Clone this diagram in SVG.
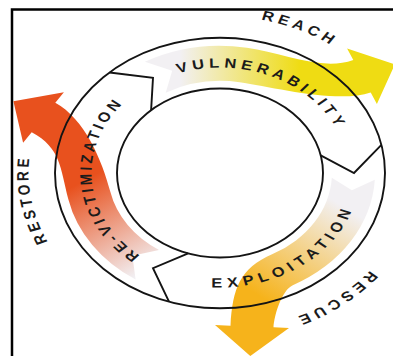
<svg xmlns="http://www.w3.org/2000/svg" width="393" height="356" viewBox="0 0 393 356">
  <defs>
    <linearGradient id="gVul" gradientUnits="userSpaceOnUse" x1="180" y1="0" x2="300" y2="0">
      <stop offset="0" stop-color="#f2f0f3"/>
      <stop offset="1" stop-color="#efdc13"/>
    </linearGradient>
    <linearGradient id="gExp" gradientUnits="userSpaceOnUse" x1="345" y1="215" x2="262" y2="325">
      <stop offset="0" stop-color="#f2f0f3"/>
      <stop offset="1" stop-color="#f6b31b"/>
    </linearGradient>
    <linearGradient id="gRev" gradientUnits="userSpaceOnUse" x1="150" y1="290" x2="80" y2="185">
      <stop offset="0" stop-color="#f2f0f3"/>
      <stop offset="1" stop-color="#e8511e"/>
    </linearGradient>
    <!-- baselines for the lettering (circle centre 220,173) -->
    <path id="pReach" d="M108.3,17.5 A191.5,191.5 0 0 1 410.6,154"/>
    <path id="pRescue" d="M410,149.3 A191.5,191.5 0 0 1 145.5,349.4"/>
    <path id="pRestore" d="M153.9,352.7 A191.5,191.5 0 0 1 97.4,25.9"/>
    <path id="pVul" d="M141.4,71.3 A128.5,128.5 0 0 1 347.3,155.8"/>
    <path id="pExp" d="M159.9,298.9 A139.5,139.5 0 0 0 359.1,162"/>
    <path id="pRev" d="M186.3,297 A128.5,128.5 0 0 1 166.1,56.3"/>
  </defs>
  <style>
    .ring { fill: none; stroke: #141414; stroke-width: 1.9; vector-effect: non-scaling-stroke; stroke-linejoin: miter; }
    .lbl { font-family: "Liberation Sans", Arial, sans-serif; font-weight: bold; font-size: 16.5px; fill: #1b1b1b; }
  </style>

  <rect width="393" height="356" fill="#ffffff"/>

  <!-- frame -->
  <path id="frame" d="M12,356 V9.5 H393" fill="none" stroke="#000" stroke-width="2.5"/>

  <!-- whole cycle drawn round, then flattened vertically -->
  <g transform="matrix(1 0 0 0.82 0 31.14)">
    <g id="connectors">
      <path id="arrow-vulnerability" fill="url(#gVul)" d="M144.9,37.4 A155,155 0 0 1 246.9,20.4 C281.5,25.9 321.3,49.4 353.3,35.3 L347.1,21.1 L394.9,40.5 L376.9,88.9 L370.7,74.7 C338.7,88.8 274.1,68.3 239.6,62.2 A112,112 0 0 0 165.7,75 L172.2,48.4 Z"/>
      <path id="arrow-exploitation" fill="url(#gExp)" d="M374.8,181.1 A155,155 0 0 1 292.8,309.9 C281.8,315.8 274.2,346.2 273.5,361.2 L289,362 L250.3,396.2 L215,358.4 L230.5,359.2 C232.7,314.2 239.5,289.5 272.6,271.9 A112,112 0 0 0 331.8,178.9 L351.9,193.9 Z"/>
      <path id="arrow-revictimization" fill="url(#gRev)" d="M135.6,303 A155,155 0 0 1 68.4,205.3 C60.1,166.2 60.9,142.6 31.7,123.3 L23.1,136.2 L13.4,85.5 L63.9,74.4 L55.3,87.3 C84.5,106.6 102.1,157.2 110.4,196.3 A112,112 0 0 0 159,266.9 L132.4,273.8 Z"/>
    </g>

    <g id="cycle">
      <circle class="ring" cx="220" cy="173" r="165"/>
      <circle class="ring" cx="220" cy="173" r="103"/>
      <polyline class="ring" points="109.6,50.4 153,57 151.1,96.5"/>
      <polyline class="ring" points="381.4,138.7 354,173 320.7,151.6"/>
      <polyline class="ring" points="169,329.9 153,289 188.2,271"/>
    </g>

    <g id="node-vulnerability">
      <text class="lbl" letter-spacing="4.5"><textPath href="#pVul" startOffset="51%" text-anchor="middle">VULNERABILITY</textPath></text>
    </g>
    <g id="node-exploitation">
      <text class="lbl" letter-spacing="5.5"><textPath href="#pExp" startOffset="50%" text-anchor="middle">EXPLOITATION</textPath></text>
    </g>
    <g id="node-revictimization">
      <text class="lbl" letter-spacing="3.8"><textPath href="#pRev" startOffset="50%" text-anchor="middle">RE-VICTIMIZATION</textPath></text>
    </g>

    <g id="label-reach">
      <text class="lbl" letter-spacing="4.3"><textPath href="#pReach" startOffset="50%" text-anchor="middle">REACH</textPath></text>
    </g>
    <g id="label-rescue">
      <text class="lbl" letter-spacing="4.7"><textPath href="#pRescue" startOffset="50%" text-anchor="middle">RESCUE</textPath></text>
    </g>
    <g id="label-restore">
      <text class="lbl" letter-spacing="4.1"><textPath href="#pRestore" startOffset="50%" text-anchor="middle">RESTORE</textPath></text>
    </g>
  </g>
</svg>
